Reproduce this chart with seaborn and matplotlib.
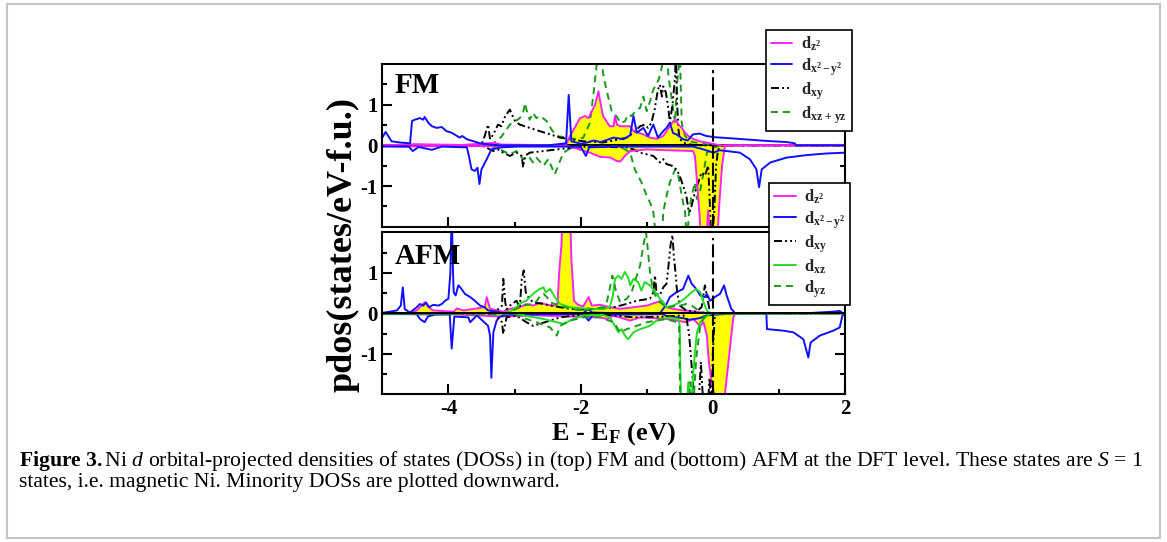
import numpy as np
import pandas as pd
import matplotlib
matplotlib.use("Agg")
import matplotlib.pyplot as plt
import seaborn as sns
from matplotlib.lines import Line2D
from matplotlib.patches import Rectangle

# ---------------- data (energy E-EF in eV, pdos in states/eV-f.u.) ----------------
# FM panel
fm_z2_up_e = [-5.0, -4.5, -4.2, -3.8, -3.3, -3.2, -2.25, -2.21, -2.16, -2.09, -2.01, -1.93, -1.88, -1.83, -1.78, -1.73, -1.71, -1.66, -1.56, -1.50, -1.48, -1.45, -1.40, -1.25, -1.20, -1.05, -0.95, -0.85, -0.75, -0.70, -0.65, -0.60, -0.56, -0.52, -0.47, -0.42, -0.37, -0.30, -0.20, -0.04, 0.11, 2.0]
fm_z2_up_v = [0.0, 0.03, 0.02, 0.01, 0.06, 0.02, 0.0, 0.05, 0.23, 0.43, 0.67, 0.72, 0.67, 0.84, 1.0, 1.33, 1.13, 0.72, 0.47, 0.47, 0.72, 0.51, 0.47, 0.47, 0.35, 0.27, 0.19, 0.16, 0.23, 0.35, 0.47, 0.59, 0.63, 0.51, 0.43, 0.31, 0.23, 0.16, 0.10, 0.05, 0.0, 0.0]
fm_z2_dn_e = [-5.0, -4.7, -4.3, -3.5, -2.2, -2.06, -1.86, -1.71, -1.55, -1.46, -1.40, -1.33, -1.25, -1.0, -0.7, -0.30, -0.27, -0.23, -0.20, -0.17, -0.10, -0.07, -0.03, 0.06, 0.10, 0.14, 0.18, 0.20, 2.0]
fm_z2_dn_v = [0.0, -0.03, -0.02, -0.02, -0.01, -0.08, -0.18, -0.28, -0.30, -0.38, -0.40, -0.26, -0.14, -0.10, -0.12, -0.14, -0.26, -1.07, -1.72, -2.6, -2.4, -1.6, -2.5, -2.5, -1.4, -0.5, -0.05, 0.0, 0.0]

fm_x2y2_up_e = [-5.0, -4.95, -4.86, -4.73, -4.58, -4.55, -4.51, -4.43, -4.38, -4.36, -4.30, -4.25, -4.18, -4.10, -4.03, -3.95, -3.88, -3.83, -3.79, -3.72, -3.62, -3.52, -3.42, -3.27, -2.5, -2.22, -2.18, -2.14, -2.0, -1.9, -1.8, -1.70, -1.50, -1.35, -1.25, -1.20, -1.15, -1.05, -0.98, -0.90, -0.83, -0.75, -0.70, -0.65, -0.60, -0.55, -0.45, -0.38, -0.30, -0.20, -0.10, 0.03, 0.3, 0.8, 1.12, 1.24, 1.26, 2.0]
fm_x2y2_up_v = [0.19, 0.33, 0.10, 0.07, 0.05, 0.60, 0.63, 0.67, 0.63, 0.70, 0.55, 0.47, 0.43, 0.45, 0.35, 0.31, 0.24, 0.19, 0.23, 0.15, 0.10, 0.05, 0.03, 0.0, 0.0, 0.05, 1.24, 0.10, 0.04, 0.07, 0.12, 0.08, 0.19, 0.15, 0.25, 0.72, 0.31, 0.43, 0.23, 0.51, 0.19, 0.35, 0.43, 0.55, 0.30, 0.27, 0.15, 0.12, 0.27, 0.29, 0.23, 0.20, 0.17, 0.11, 0.08, 0.05, 0.0, 0.0]
fm_x2y2_dn_e = [-5.0, -4.6, -4.54, -4.45, -4.25, -4.1, -3.72, -3.69, -3.65, -3.60, -3.56, -3.53, -3.50, -3.47, -3.42, -3.35, -3.2, -2.95, -2.0, -1.92, -1.87, -1.5, -0.3, -0.14, -0.05, 0.01, 0.1, 0.21, 0.41, 0.56, 0.66, 0.70, 0.74, 0.87, 1.12, 1.42, 1.72, 2.0]
fm_x2y2_dn_v = [-0.03, -0.03, -0.14, -0.04, -0.11, -0.03, -0.05, -0.26, -0.59, -0.63, -0.55, -0.95, -0.59, -0.50, -0.34, -0.10, -0.05, -0.03, -0.03, -0.26, -0.05, -0.03, -0.03, -0.10, -0.15, -0.18, -0.12, -0.14, -0.18, -0.34, -0.59, -1.03, -0.59, -0.42, -0.30, -0.24, -0.20, -0.18]

fm_xy_up_e = [-5.0, -3.55, -3.50, -3.45, -3.40, -3.37, -3.32, -3.25, -3.20, -3.14, -3.07, -3.04, -2.99, -2.92, -2.77, -2.62, -2.46, -2.31, -2.16, -1.96, -1.66, -1.50, -1.30, -1.20, -1.10, -1.03, -0.98, -0.93, -0.88, -0.83, -0.80, -0.77, -0.75, -0.71, -0.67, -0.65, -0.61, -0.57, -0.56, -0.54, -0.52, -0.50, -0.40, -0.20, 2.0]
fm_xy_up_v = [0.0, 0.0, 0.03, 0.23, 0.51, 0.15, 0.27, 0.51, 0.47, 0.72, 0.88, 0.76, 0.59, 0.51, 0.43, 0.35, 0.27, 0.19, 0.15, 0.10, 0.07, 0.12, 0.19, 0.31, 0.47, 0.51, 0.43, 0.55, 0.88, 1.37, 1.49, 1.20, 1.45, 1.30, 0.88, 0.55, 1.0, 1.7, 2.4, 1.04, 0.39, 0.15, 0.03, 0.0, 0.0]
fm_xy_dn_e = [-5.0, -3.5, -3.42, -3.32, -3.25, -3.17, -3.07, -2.97, -2.89, -2.87, -2.84, -2.77, -2.56, -2.36, -2.16, -1.91, -1.30, -1.20, -1.10, -0.90, -0.80, -0.75, -0.70, -0.62, -0.55, -0.50, -0.45, -0.40, -0.37, -0.35, -0.32, -0.27, -0.22, -0.17, -0.12, -0.07, -0.02, 0.02, 0.05, 0.08, 0.16, 2.0]
fm_xy_dn_v = [0.0, 0.0, -0.06, -0.14, -0.10, -0.18, -0.26, -0.18, -0.26, -0.54, -0.26, -0.18, -0.14, -0.10, -0.06, -0.03, -0.05, -0.10, -0.18, -0.26, -0.42, -0.34, -0.46, -0.50, -0.59, -0.75, -0.99, -1.24, -1.56, -1.64, -1.48, -1.15, -0.91, -0.67, -0.75, -0.50, -2.4, -1.7, -0.50, -0.10, 0.0, 0.0]

fm_xzyz_up_e = [-5.0, -3.40, -3.27, -3.19, -3.14, -3.07, -2.99, -2.92, -2.87, -2.84, -2.82, -2.77, -2.72, -2.67, -2.61, -2.51, -2.44, -2.36, -2.21, -2.06, -1.96, -1.86, -1.81, -1.76, -1.74, -1.69, -1.66, -1.61, -1.53, -1.45, -1.40, -1.33, -1.28, -1.23, -1.15, -1.10, -1.05, -1.00, -0.95, -0.90, -0.82, -0.77, -0.75, -0.70, -0.67, -0.62, -0.57, -0.55, -0.52, -0.50, -0.47, -0.42, -0.35, -0.20, 0.0, 2.0]
fm_xzyz_up_v = [0.0, 0.0, 0.10, 0.23, 0.35, 0.51, 0.59, 0.67, 0.80, 1.04, 0.88, 0.63, 0.80, 0.67, 0.72, 0.59, 0.39, 0.23, 0.19, 0.15, 0.19, 0.55, 1.2, 1.93, 2.4, 2.4, 1.77, 1.37, 0.85, 0.70, 0.55, 0.59, 0.76, 0.72, 0.88, 0.92, 1.2, 0.84, 1.08, 1.37, 1.61, 1.93, 2.4, 2.4, 1.69, 1.12, 0.55, 1.37, 1.85, 2.4, 0.55, 0.23, 0.10, 0.05, 0.0, 0.0]
fm_xzyz_dn_e = [-5.0, -3.40, -3.27, -3.17, -3.07, -2.97, -2.87, -2.79, -2.72, -2.67, -2.56, -2.49, -2.39, -2.34, -2.26, -2.16, -1.91, -1.40, -1.25, -1.18, -1.13, -1.08, -1.05, -1.00, -0.95, -0.90, -0.85, -0.77, -0.75, -0.70, -0.65, -0.57, -0.52, -0.47, -0.42, -0.39, -0.36, -0.32, -0.27, -0.24, -0.19, -0.14, -0.09, 0.01, 0.11, 2.0]
fm_xzyz_dn_v = [0.0, 0.0, -0.06, -0.14, -0.22, -0.14, -0.34, -0.26, -0.42, -0.30, -0.50, -0.34, -0.71, -0.50, -0.18, -0.08, -0.03, -0.03, -0.18, -0.59, -0.75, -0.91, -1.03, -1.24, -1.40, -1.64, -2.4, -2.4, -1.64, -1.24, -0.91, -0.59, -0.75, -1.24, -1.64, -2.4, -1.64, -1.24, -0.91, -1.32, -1.10, -0.67, -0.18, -0.06, 0.0, 0.0]

# AFM panel
afm_z2_up_e = [-5.0, -4.6, -4.48, -4.43, -4.36, -4.30, -4.23, -3.92, -3.87, -3.77, -3.45, -3.42, -3.37, -3.17, -3.07, -2.92, -2.82, -2.72, -2.61, -2.51, -2.41, -2.35, -2.32, -2.29, -2.27, -2.16, -2.14, -2.10, -2.04, -1.96, -1.88, -1.83, -1.71, -1.55, -1.40, -1.20, -1.00, -0.85, -0.77, -0.70, -0.60, -0.45, -0.25, -0.10, 2.0]
afm_z2_up_v = [0.0, 0.0, 0.07, 0.15, 0.27, 0.15, 0.07, 0.04, 0.12, 0.07, 0.15, 0.40, 0.11, 0.04, 0.11, 0.15, 0.23, 0.19, 0.26, 0.21, 0.19, 0.23, 1.10, 1.68, 2.6, 2.6, 1.35, 0.31, 0.21, 0.17, 0.40, 0.19, 0.21, 0.15, 0.11, 0.15, 0.19, 0.27, 0.31, 0.15, 0.11, 0.07, 0.04, 0.0, 0.0]
afm_z2_dn_e = [-5.0, -4.4, -4.0, -3.2, -2.7, -1.71, -1.60, -1.50, -1.25, -1.10, -0.70, -0.40, -0.30, -0.19, -0.14, -0.09, -0.06, -0.02, 0.03, 0.10, 0.18, 0.25, 0.31, 0.34, 2.0]
afm_z2_dn_v = [0.0, -0.03, -0.02, -0.08, -0.05, -0.10, -0.14, -0.06, -0.18, -0.10, -0.14, -0.22, -0.14, -0.31, -0.22, -0.55, -1.2, -1.7, -2.05, -2.6, -2.05, -1.0, -0.1, 0.0, 0.0]

afm_x2y2_up_e = [-5.0, -4.78, -4.72, -4.69, -4.66, -4.58, -4.48, -4.43, -4.38, -4.34, -4.29, -4.23, -4.15, -4.10, -4.05, -4.00, -3.97, -3.95, -3.93, -3.92, -3.89, -3.85, -3.82, -3.75, -3.67, -3.60, -3.52, -3.45, -3.40, -3.27, -3.17, -1.96, -1.88, -1.83, -1.40, -0.80, -0.75, -0.70, -0.65, -0.55, -0.45, -0.37, -0.32, -0.25, -0.19, -0.12, -0.09, -0.04, 0.03, 0.11, 0.17, 0.21, 0.28, 0.34, 1.40, 1.82, 1.92, 1.97, 2.0]
afm_x2y2_up_v = [0.01, 0.07, 0.19, 0.64, 0.10, 0.02, 0.15, 0.23, 0.19, 0.27, 0.15, 0.21, 0.19, 0.23, 0.31, 0.36, 1.0, 2.6, 1.0, 0.52, 0.44, 0.69, 0.64, 0.48, 0.40, 0.31, 0.19, 0.15, 0.07, 0.04, 0.0, 0.0, 0.12, 0.02, 0.0, 0.0, 0.11, 0.23, 0.40, 0.52, 0.60, 0.93, 0.73, 0.60, 0.44, 0.40, 0.48, 0.31, 0.40, 0.48, 0.69, 0.44, 0.11, 0.0, 0.0, 0.04, 0.06, 0.0, 0.0]
afm_x2y2_dn_e = [-5.0, -4.48, -4.43, -4.36, -4.31, -4.2, -3.98, -3.95, -3.91, -3.70, -3.67, -3.57, -3.40, -3.37, -3.35, -3.32, -3.27, -3.22, -3.07, -1.96, -1.88, -1.81, -0.75, -0.70, -0.45, -0.35, -0.20, -0.09, 0.34, 0.81, 0.82, 1.07, 1.22, 1.37, 1.445, 1.48, 1.62, 1.82, 1.92, 1.96, 2.0]
afm_x2y2_dn_v = [-0.02, -0.02, -0.14, -0.22, -0.08, -0.03, -0.03, -0.87, -0.08, -0.10, -0.22, -0.05, -0.31, -0.55, -1.59, -0.47, -0.18, -0.08, -0.03, -0.02, -0.18, -0.04, -0.02, -0.07, -0.12, -0.16, -0.12, -0.05, 0.0, 0.0, -0.39, -0.43, -0.47, -0.64, -1.09, -0.72, -0.55, -0.43, -0.35, -0.06, 0.0]

afm_xy_up_e = [-5.0, -3.3, -3.25, -3.19, -3.17, -3.14, -3.12, -3.07, -2.97, -2.92, -2.89, -2.86, -2.83, -2.79, -2.72, -2.56, -2.44, -2.31, -2.16, -1.91, -1.71, -1.50, -1.35, -1.15, -0.95, -0.90, -0.875, -0.85, -0.80, -0.75, -0.70, -0.67, -0.64, -0.61, -0.59, -0.56, -0.54, -0.50, -0.40, -0.25, -0.17, -0.12, -0.08, -0.04, 2.0]
afm_xy_up_v = [0.0, 0.0, 0.10, 0.19, 0.85, 0.27, 0.10, 0.19, 0.31, 0.15, 0.85, 1.06, 0.52, 0.40, 0.27, 0.23, 0.19, 0.15, 0.11, 0.09, 0.11, 0.15, 0.21, 0.31, 0.36, 0.52, 0.93, 0.48, 0.45, 0.64, 0.73, 1.18, 1.68, 1.93, 1.43, 0.93, 0.52, 0.19, 0.07, 0.04, 0.15, 0.69, 0.36, 0.0, 0.0]
afm_xy_dn_e = [-5.0, -3.3, -3.19, -3.17, -3.12, -2.97, -2.82, -2.72, -2.62, -2.46, -2.31, -2.06, -1.66, -1.20, -0.70, -0.45, -0.40, -0.36, -0.31, -0.27, -0.22, -0.18, -0.14, -0.08, -0.05, -0.02, 0.0, 0.03, 0.05, 2.0]
afm_xy_dn_v = [0.0, -0.02, -0.22, -0.51, -0.10, -0.06, -0.22, -0.31, -0.26, -0.18, -0.10, -0.05, -0.03, -0.10, -0.08, -0.05, -0.10, -0.5, -1.5, -2.4, -2.4, -1.2, -2.4, -2.4, -1.6, -2.4, -1.0, -0.05, 0.0, 0.0]

afm_xz_up_e = [-5.0, -3.17, -3.07, -2.97, -2.89, -2.82, -2.77, -2.69, -2.62, -2.56, -2.53, -2.46, -2.39, -2.31, -2.16, -1.96, -1.66, -1.56, -1.51, -1.48, -1.43, -1.38, -1.33, -1.28, -1.25, -1.20, -1.13, -1.08, -1.03, -0.95, -0.87, -0.80, -0.75, -0.70, -0.60, -0.50, -0.40, -0.32, -0.25, -0.19, -0.14, -0.09, -0.04, 2.0]
afm_xz_up_v = [0.0, 0.0, 0.04, 0.15, 0.27, 0.31, 0.40, 0.52, 0.60, 0.64, 0.52, 0.60, 0.40, 0.23, 0.15, 0.12, 0.10, 0.15, 0.44, 0.85, 0.93, 0.85, 1.02, 0.88, 0.69, 0.85, 0.77, 0.56, 0.77, 0.69, 0.52, 0.36, 0.27, 0.15, 0.19, 0.27, 0.40, 0.52, 0.60, 0.52, 0.27, 0.07, 0.0, 0.0]
afm_xz_dn_e = [-5.0, -3.0, -2.77, -2.56, -2.36, -2.26, -2.16, -1.96, -1.66, -1.56, -1.48, -1.43, -1.38, -1.33, -1.28, -1.20, -1.10, -0.95, -0.85, -0.75, -0.65, -0.52, -0.50, -0.48, -0.40, -0.37, -0.33, -0.30, -0.27, -0.24, -0.19, -0.09, -0.04, 2.0]
afm_xz_dn_v = [0.0, 0.0, -0.08, -0.14, -0.22, -0.26, -0.18, -0.05, -0.04, -0.10, -0.31, -0.47, -0.39, -0.55, -0.64, -0.47, -0.39, -0.31, -0.18, -0.14, -0.10, -0.14, -0.31, -2.4, -2.4, -1.7, -2.4, -1.55, -0.97, -0.47, -0.22, -0.07, 0.0, 0.0]

afm_yz_up_e = [-5.0, -3.17, -3.07, -2.97, -2.87, -2.72, -2.66, -2.61, -2.56, -2.51, -2.46, -2.39, -2.31, -2.16, -1.96, -1.66, -1.61, -1.56, -1.52, -1.46, -1.40, -1.30, -1.23, -1.10, -1.05, -1.01, -0.99, -0.95, -0.90, -0.80, -0.70, -0.50, -0.40, -0.32, -0.25, -0.14, -0.04, 2.0]
afm_yz_up_v = [0.0, 0.0, 0.04, 0.11, 0.19, 0.23, 0.31, 0.44, 0.48, 0.40, 0.27, 0.23, 0.19, 0.11, 0.07, 0.15, 0.23, 0.60, 0.93, 0.52, 0.27, 0.36, 0.52, 1.18, 1.68, 2.0, 1.68, 1.02, 0.52, 0.27, 0.15, 0.19, 0.23, 0.19, 0.11, 0.02, 0.0, 0.0]
afm_yz_dn_e = [-5.0, -3.0, -2.82, -2.67, -2.46, -2.36, -2.31, -2.16, -1.96, -1.71, -1.50, -1.40, -1.30, -1.15, -1.00, -0.85, -0.70, -0.55, -0.51, -0.49, -0.37, -0.34, -0.30, -0.25, -0.19, -0.14, -0.09, 0.0, 2.0]
afm_yz_dn_v = [0.0, -0.02, -0.14, -0.22, -0.35, -0.55, -0.31, -0.18, -0.10, -0.10, -0.22, -0.47, -0.39, -0.31, -0.22, -0.18, -0.14, -0.22, -0.31, -2.4, -2.4, -1.7, -2.4, -1.1, -0.31, -0.10, -0.04, 0.0, 0.0]

panel_names = ["FM", "AFM"]
x_ticks = [-4, -2, 0, 2]
y_ticks = [-1, 0, 1]
fm_labels = [r"$\mathbf{d_{z^2}}$", r"$\mathbf{d_{x^2-y^2}}$", r"$\mathbf{d_{xy}}$", r"$\mathbf{d_{xz\,+\,yz}}$"]
afm_labels = [r"$\mathbf{d_{z^2}}$", r"$\mathbf{d_{x^2-y^2}}$", r"$\mathbf{d_{xy}}$", r"$\mathbf{d_{xz}}$", r"$\mathbf{d_{yz}}$"]
x_label = r"$\mathbf{E}$ - $\mathbf{E_{F}}$ (eV)"
y_label = "pdos(states/eV-f.u.)"
caption_1 = (r"$\mathbf{Figure\ 3.}$Ni $\mathit{d}$ orbital-projected densities of states (DOSs) in (top) FM "
             r"and (bottom) AFM at the DFT level. These states are $\mathit{S}$ = 1")
caption_2 = "states, i.e. magnetic Ni. Minority DOSs are plotted downward."

# ---------------- style ----------------
sns.set_theme(style="white")
plt.rcParams["font.family"] = ["Liberation Serif", "DejaVu Serif"]
plt.rcParams.update({
    "font.weight": "bold",
    "mathtext.fontset": "custom",
    "mathtext.rm": "Liberation Serif:normal",
    "mathtext.bf": "Liberation Serif:bold",
    "mathtext.it": "Liberation Serif:italic:normal",
    "axes.unicode_minus": False,
    "lines.scale_dashes": False,
    "axes.edgecolor": "black",
    "axes.linewidth": 1.5,
})

MAG = "#ff22ff"
BLUE = "#1010ff"
BLACK = "#000000"
DGREEN = "#1a9a1a"
LGREEN = "#22dd22"
YEL = "#ffff00"
LW = 1.4
DASHDOTDOT = (0, (5.8, 2.2, 1.4, 2.2, 1.4, 2.2))
DASHED = (0, (5.0, 3.6))

W, H = 1167, 542
fig = plt.figure(figsize=(W / 100, H / 100), dpi=100)

def frac_box(x0, y0, x1, y1):
    return [x0 / W, 1 - y1 / H, (x1 - x0) / W, (y1 - y0) / H]

ax_fm = fig.add_axes(frac_box(382.3, 64, 845, 226.7))
ax_afm = fig.add_axes(frac_box(382.3, 232.3, 845, 394.3))

def line(ax, e, v, color, ls="-", z=2):
    sns.lineplot(x=e, y=v, ax=ax, color=color, lw=LW, linestyle=ls,
                 sort=False, estimator=None, legend=False, zorder=z)

# FM
for e, v in [(fm_z2_up_e, fm_z2_up_v), (fm_z2_dn_e, fm_z2_dn_v)]:
    ax_fm.fill_between(e, v, 0, color=YEL, lw=0, zorder=1)
ax_fm.axhline(0, color="black", lw=LW, zorder=1.5)
line(ax_fm, fm_xzyz_up_e, fm_xzyz_up_v, DGREEN, DASHED)
line(ax_fm, fm_xzyz_dn_e, fm_xzyz_dn_v, DGREEN, DASHED)
line(ax_fm, fm_xy_up_e, fm_xy_up_v, BLACK, DASHDOTDOT)
line(ax_fm, fm_xy_dn_e, fm_xy_dn_v, BLACK, DASHDOTDOT)
line(ax_fm, fm_z2_up_e, fm_z2_up_v, MAG)
line(ax_fm, fm_z2_dn_e, fm_z2_dn_v, MAG)
line(ax_fm, fm_x2y2_up_e, fm_x2y2_up_v, BLUE)
line(ax_fm, fm_x2y2_dn_e, fm_x2y2_dn_v, BLUE)

# AFM
for e, v in [(afm_z2_up_e, afm_z2_up_v), (afm_z2_dn_e, afm_z2_dn_v)]:
    ax_afm.fill_between(e, v, 0, color=YEL, lw=0, zorder=1)
line(ax_afm, afm_z2_up_e, afm_z2_up_v, MAG)
line(ax_afm, afm_z2_dn_e, afm_z2_dn_v, MAG)
line(ax_afm, afm_x2y2_up_e, afm_x2y2_up_v, BLUE)
line(ax_afm, afm_x2y2_dn_e, afm_x2y2_dn_v, BLUE)
line(ax_afm, afm_xy_up_e, afm_xy_up_v, BLACK, DASHDOTDOT)
line(ax_afm, afm_xy_dn_e, afm_xy_dn_v, BLACK, DASHDOTDOT)
line(ax_afm, afm_xz_up_e, afm_xz_up_v, LGREEN)
line(ax_afm, afm_xz_dn_e, afm_xz_dn_v, LGREEN)
line(ax_afm, afm_yz_up_e, afm_yz_up_v, DGREEN, DASHED)
line(ax_afm, afm_yz_dn_e, afm_yz_dn_v, DGREEN, DASHED)
ax_afm.axhline(0, color="black", lw=LW, zorder=3)

TICK_FS = 15
for ax, name in zip([ax_fm, ax_afm], panel_names):
    ax.axvline(0, ymin=0, ymax=0.965, color="black", lw=1.5, linestyle=(0, (9.4, 2.9)), zorder=3)
    ax.set_xlim(-5, 2)
    ax.set_ylim(-2, 2)
    ax.set_xticks(x_ticks)
    ax.set_xticks([-3, -1, 1], minor=True)
    ax.set_yticks(y_ticks)
    ax.set_yticks([-1.5, -0.5, 0.5, 1.5], minor=True)
    ax.tick_params(which="both", direction="in", right=True, top=False, left=True, bottom=True,
                   width=1.5, color="black", labelsize=TICK_FS, labelcolor="black")
    ax.tick_params(which="major", length=7.5, pad=3.5)
    ax.tick_params(which="minor", length=3.8)
    ax.set_xlabel("")
    ax.set_ylabel("")
    for s in ax.spines.values():
        s.set_visible(True)
        s.set_color("black")
        s.set_linewidth(1.5)
    ax.text(0.027, 0.82 if name == "FM" else 0.802, name, transform=ax.transAxes,
            fontsize=21, fontweight="bold", va="baseline", ha="left", color="black", zorder=5)

ax_fm.tick_params(labelbottom=False)
ax_afm.set_xlabel(x_label, fontsize=19, fontweight="bold", labelpad=1, color="black")
fig.text(343 / W, 1 - 244 / H, y_label, rotation=90, fontsize=26, fontweight="bold",
         ha="center", va="center", color="black")

# legends
fm_handles = [Line2D([], [], color=MAG, lw=LW), Line2D([], [], color=BLUE, lw=LW),
              Line2D([], [], color=BLACK, lw=LW, linestyle=DASHDOTDOT),
              Line2D([], [], color=DGREEN, lw=LW, linestyle=DASHED)]
afm_handles = [Line2D([], [], color=MAG, lw=LW), Line2D([], [], color=BLUE, lw=LW),
               Line2D([], [], color=BLACK, lw=LW, linestyle=DASHDOTDOT),
               Line2D([], [], color=LGREEN, lw=LW),
               Line2D([], [], color=DGREEN, lw=LW, linestyle=DASHED)]

def add_legend(handles, labels, x, y):
    leg = fig.legend(handles, labels, loc="upper left", bbox_to_anchor=(x / W, 1 - y / H),
                     bbox_transform=fig.transFigure, borderaxespad=0, frameon=True, fancybox=False,
                     edgecolor="black", framealpha=1, facecolor="white", fontsize=12,
                     handlelength=1.3, handletextpad=0.5, labelspacing=0.15, borderpad=0.3)
    leg.get_frame().set_linewidth(1.2)
    return leg

add_legend(fm_handles, fm_labels, 765.7, 30)
add_legend(afm_handles, afm_labels, 769, 183)

# caption
fig.text(19 / W, 1 - 461 / H, caption_1, fontsize=15.6, fontweight="normal", ha="left", va="center",
         color="black", family="Liberation Serif")
fig.text(19 / W, 1 - 483 / H, caption_2, fontsize=15.6, fontweight="normal", ha="left", va="center",
         color="black", family="Liberation Serif")

# outer frame
fig.patches.append(Rectangle((7 / W, 1 - 538 / H), (1160 - 7) / W, (538 - 4) / H, transform=fig.transFigure,
                             fill=False, edgecolor="#c4c4c4", lw=1.5, zorder=0))

fig.savefig("out.png", dpi=100)
